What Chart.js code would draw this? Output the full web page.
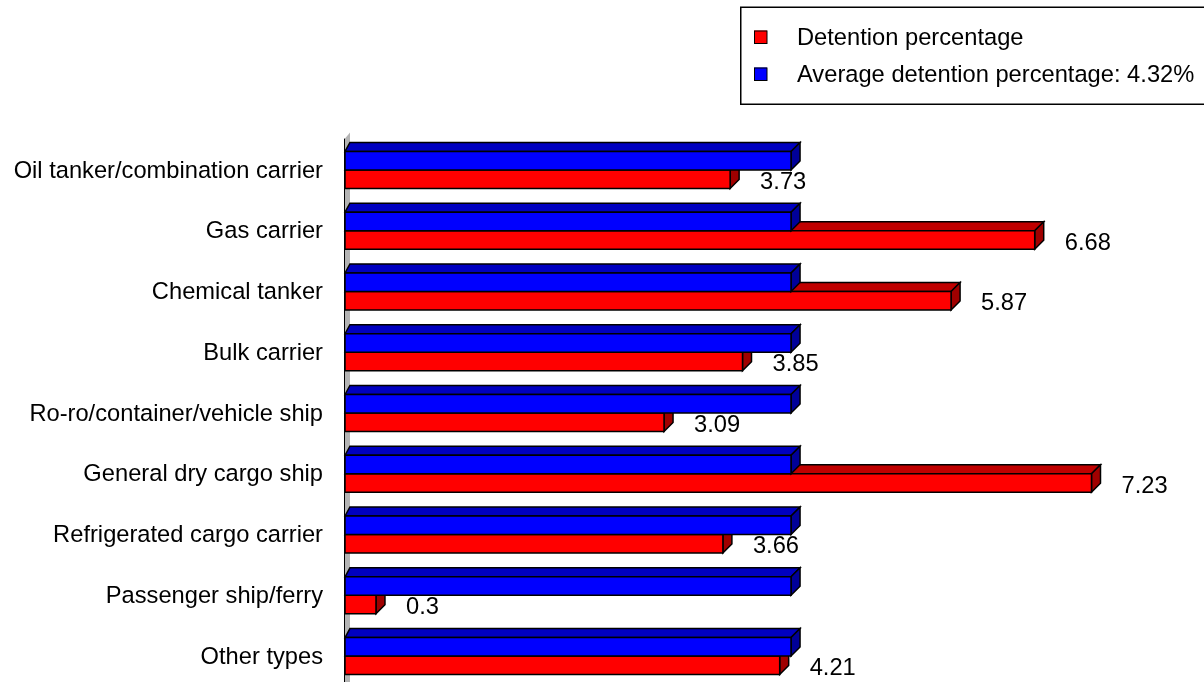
<!DOCTYPE html>
<html>
<head>
<meta charset="utf-8">
<style>
  html, body { margin: 0; padding: 0; background: #ffffff; overflow: hidden; }
  #wrap { width: 1204px; height: 682px; position: relative; }
</style>
<script src="https://cdn.jsdelivr.net/npm/chart.js@4/dist/chart.umd.min.js"></script>
</head>
<body>
<div id="wrap"><canvas id="chart" width="1204" height="682"></canvas></div>
<script>
// Ship types, detention percentage per type, and the overall average
const shipTypes = [
  'Oil tanker/combination carrier',
  'Gas carrier',
  'Chemical tanker',
  'Bulk carrier',
  'Ro-ro/container/vehicle ship',
  'General dry cargo ship',
  'Refrigerated cargo carrier',
  'Passenger ship/ferry',
  'Other types'
];
const detentionPct = [3.73, 6.68, 5.87, 3.85, 3.09, 7.23, 3.66, 0.3, 4.21];
const averagePct = [4.32, 4.32, 4.32, 4.32, 4.32, 4.32, 4.32, 4.32, 4.32];
const averageValue = 4.32;

const seriesNames = {
  detention: 'Detention percentage',
  average: 'Average detention percentage: ' + averageValue.toFixed(2) + '%'
};

const FONT = '23.7px "Liberation Sans", Arial, sans-serif';
const DEPTH = 9;      // 3D extrusion of each bar (right and up)
const SHIFT = 9;      // front faces sit this far below the scale's band centres

const palette = {
  detention: { front: '#ff0000', top: '#c00000', side: '#a00000' },
  average:   { front: '#0000ff', top: '#0000c0', side: '#000099' }
};

function drawBox(ctx, x0, x1, yTop, yBot, c) {
  const d = DEPTH;
  ctx.lineJoin = 'miter';
  ctx.lineWidth = 1.5;
  ctx.strokeStyle = '#000000';
  // top face
  ctx.beginPath();
  ctx.moveTo(x0, yTop);
  ctx.lineTo(x0 + d * 0.55, yTop - d);
  ctx.lineTo(x1 + d, yTop - d);
  ctx.lineTo(x1, yTop);
  ctx.closePath();
  ctx.fillStyle = c.top; ctx.fill(); ctx.stroke();
  // side face
  ctx.beginPath();
  ctx.moveTo(x1, yTop);
  ctx.lineTo(x1 + d, yTop - d);
  ctx.lineTo(x1 + d, yBot - d);
  ctx.lineTo(x1, yBot);
  ctx.closePath();
  ctx.fillStyle = c.side; ctx.fill(); ctx.stroke();
  // front face
  ctx.beginPath();
  ctx.rect(x0, yTop, x1 - x0, yBot - yTop);
  ctx.fillStyle = c.front; ctx.fill(); ctx.stroke();
}

// Left wall of the 3D plot area
const wallPlugin = {
  id: 'wall',
  beforeDatasetsDraw(chart) {
    const ctx = chart.ctx;
    const left = chart.scales.x.getPixelForValue(0);
    const top = chart.chartArea.top;
    ctx.save();
    ctx.fillStyle = '#b4b4b4';
    ctx.beginPath();
    ctx.moveTo(left, top + 8);
    ctx.lineTo(left + 5, top + 2);
    ctx.lineTo(left + 5, chart.height);
    ctx.lineTo(left, chart.height);
    ctx.closePath();
    ctx.fill();
    ctx.strokeStyle = '#000000';
    ctx.lineWidth = 1;
    ctx.beginPath();
    ctx.moveTo(left - 0.5, top + 8);
    ctx.lineTo(left - 0.5, chart.height);
    ctx.stroke();
    ctx.restore();
  }
};

// Extruded bars and value labels, drawn from the bar elements' own geometry
const bars3dPlugin = {
  id: 'bars3d',
  afterDatasetsDraw(chart) {
    const ctx = chart.ctx;
    const redMeta = chart.getDatasetMeta(1);
    const blueMeta = chart.getDatasetMeta(0);
    ctx.save();
    redMeta.data.forEach(el => {
      const h = el.height;
      drawBox(ctx, el.base, el.x, el.y + SHIFT - h / 2, el.y + SHIFT + h / 2, palette.detention);
    });
    blueMeta.data.forEach(el => {
      const h = el.height;
      drawBox(ctx, el.base, el.x, el.y + SHIFT - h / 2, el.y + SHIFT + h / 2, palette.average);
    });
    // value labels for the detention series
    ctx.font = FONT;
    ctx.fillStyle = '#000000';
    ctx.textAlign = 'left';
    ctx.textBaseline = 'middle';
    redMeta.data.forEach((el, i) => {
      ctx.fillText(String(detentionPct[i]), el.x + DEPTH + 21, el.y + SHIFT + 3);
    });
    ctx.restore();
  }
};

// Boxed legend in the upper right
const legendBoxPlugin = {
  id: 'legendBox',
  afterDraw(chart) {
    const ctx = chart.ctx;
    ctx.save();
    ctx.strokeStyle = '#000000';
    ctx.lineWidth = 1.5;
    ctx.strokeRect(740.75, 7.25, 480, 97);
    const items = [
      { name: seriesNames.detention, color: palette.detention.front, y: 37 },
      { name: seriesNames.average, color: palette.average.front, y: 74 }
    ];
    ctx.font = FONT;
    ctx.textAlign = 'left';
    ctx.textBaseline = 'middle';
    items.forEach(it => {
      ctx.fillStyle = it.color;
      ctx.fillRect(754, it.y - 6.5, 13, 13);
      ctx.lineWidth = 1;
      ctx.strokeStyle = '#000000';
      ctx.strokeRect(754.5, it.y - 6, 12.5, 12.5);
      ctx.fillStyle = '#000000';
      ctx.fillText(it.name, 797, it.y + 1);
    });
    ctx.restore();
  }
};

new Chart(document.getElementById('chart'), {
  type: 'bar',
  data: {
    labels: shipTypes,
    datasets: [
      {
        label: seriesNames.average,
        data: averagePct,
        backgroundColor: 'rgba(0,0,0,0)',
        borderWidth: 0
      },
      {
        label: seriesNames.detention,
        data: detentionPct,
        backgroundColor: 'rgba(0,0,0,0)',
        borderWidth: 0
      }
    ]
  },
  options: {
    indexAxis: 'y',
    responsive: false,
    animation: false,
    events: [],
    datasets: {
      bar: { barPercentage: 1, categoryPercentage: 0.609 }
    },
    layout: { padding: { top: 130.6, bottom: 4.6, left: 0, right: 33 } },
    plugins: {
      legend: { display: false },
      tooltip: { enabled: false }
    },
    scales: {
      x: {
        min: 0,
        max: 8,
        display: false
      },
      y: {
        grid: { display: false, drawTicks: false },
        border: { display: false },
        ticks: {
          color: '#000000',
          font: { family: '"Liberation Sans", Arial, sans-serif', size: 23.7 },
          padding: 22,
          labelOffset: SHIFT + 1
        },
        afterFit(scale) {
          scale.width = 345;
          scale.paddingTop = 0;
          scale.paddingBottom = 0;
        }
      }
    }
  },
  plugins: [wallPlugin, bars3dPlugin, legendBoxPlugin]
});
</script>
</body>
</html>
